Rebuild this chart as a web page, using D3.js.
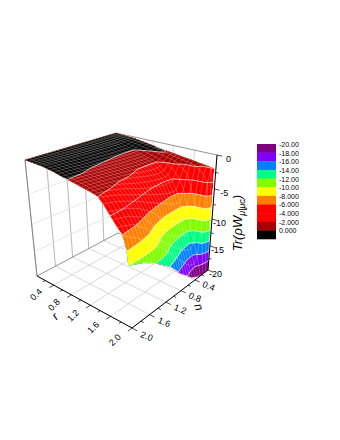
<!DOCTYPE html>
<html>
<head>
<meta charset="utf-8">
<script src="https://cdn.jsdelivr.net/npm/d3@7"></script>
<style>
  body { margin: 0; background: #fff; }
  text { font-family: "Liberation Sans", Arial, sans-serif; fill: #000; }
</style>
</head>
<body>
<svg id="chart" width="340" height="440"></svg>
<script>

// grid of the surface
var rValues = [0, 0.4, 0.65, 0.85, 1.1, 1.25, 1.4, 1.5, 1.6, 1.65, 1.7, 1.75, 1.8, 1.85, 1.9, 1.95, 1.98, 2.0];
var nValues = [0, 0.1, 0.2, 0.3, 0.5, 0.8, 1.1, 1.4, 1.7, 2.0];
var zValues = [
  [0, 0, 0, 0, 0, 0, 0, 0, 0, 0],
  [-0.2, -0.2, -0.3, -0.4, -0.4, -0.4, -0.35, -0.3, -0.25, -0.2],
  [-0.5, -0.4, -0.7, -1, -1, -0.95, -0.85, -0.8, -0.6, -0.55],
  [-0.75, -0.7, -1, -1.4, -1.4, -1.35, -1.2, -1.1, -0.95, -0.9],
  [-1.05, -1, -1.45, -1.9, -1.96, -1.85, -1.7, -1.5, -1.35, -1.25],
  [-1.2, -1.25, -1.7, -2.7, -2.9, -2.5, -2, -1.8, -1.6, -1.5],
  [-1.35, -1.5, -2, -3.7, -3.9, -3.6, -3.1, -2.3, -1.9, -1.75],
  [-1.45, -1.67, -3, -5, -5.1, -4.6, -3.85, -3.1, -2.4, -1.95],
  [-1.55, -1.83, -4, -7.3, -7.1, -6, -5, -4, -3.2, -2.7],
  [-1.6, -1.92, -5.6, -8.9, -8.6, -7.7, -5.6, -4.5, -3.7, -3.2],
  [-1.7, -2, -8, -10.4, -10.3, -9.3, -6.7, -5, -4.2, -3.8],
  [-1.72, -2.4, -10.3, -12.3, -11.7, -10.6, -8.3, -5.7, -4.7, -4.3],
  [-1.8, -2.9, -11.7, -14, -13.1, -11.6, -9.5, -6.4, -5.3, -4.8],
  [-1.85, -3.3, -13.3, -15.2, -14.7, -12.6, -10.5, -7.6, -5.8, -5.3],
  [-1.9, -3.7, -14.8, -17, -16.3, -13.6, -11.2, -8.7, -6.9, -5.7],
  [-1.97, -6, -16, -18.6, -17.7, -15.2, -12, -9.8, -8.2, -6.7],
  [-2.2, -15, -18.7, -19.3, -18.5, -16.2, -13.2, -11, -9.6, -7.7],
  [-20, -20, -20, -19.8, -19, -16.8, -14, -12.2, -10.8, -10]
];

var zLevels = [-21, -18, -16, -14, -12, -10, -8, -6, -4, -2, -1];
var bandColors = ['#800080', '#8000ff', '#0080ff', '#00ff80', '#80ff00', '#ffff00', '#ff8000', '#ff0000', '#ff0000', '#a80000', '#000000'];
var legendLabels = ['-20.00', '-18.00', '-16.00', '-14.00', '-12.00', '-10.00', '-8.000', '-6.000', '-4.000', '-2.000', '0.000'];

var rTicks = [0.4, 0.8, 1.2, 1.6, 2.0];
var nTicks = [0.4, 0.8, 1.2, 1.6, 2.0];
var zTicks = [0, -5, -10, -15, -20];

var svg = d3.select('#chart');

var rScale = d3.scaleLinear().domain([0, 2]).range([0, 1]);
var nScale = d3.scaleLinear().domain([0, 2]).range([0, 1]);
var zScale = d3.scaleLinear().domain([-20, 0]).range([0, 1]);

// box corners on screen, third number is the perspective weight
var floorBox = { b: [118, 233, 1], l: [37, 276, 0.849], r: [208, 270, 0.877], f: [132, 328, 0.726] };
var topBox = { b: [116, 133, 0.8], l: [25, 160, 0.68], r: [217, 155, 0.70], f: [124, 188, 0.58] };

function project(r, n, z) {
  var u = rScale(r), v = nScale(n), t = zScale(z);
  var mix = { b: (1 - u) * (1 - v), l: (1 - u) * v, r: u * (1 - v), f: u * v };
  var x = 0, y = 0, w = 0;
  for (var k in mix) {
    var a = mix[k] * (1 - t) * floorBox[k][2], c = mix[k] * t * topBox[k][2];
    x += a * floorBox[k][0] + c * topBox[k][0];
    y += a * floorBox[k][1] + c * topBox[k][1];
    w += a + c;
  }
  return [x / w, y / w];
}

var line3d = d3.line();

function drawLine(g, points, stroke, width) {
  return g.append('path')
    .attr('d', line3d(points.map(function(p) { return project(p[0], p[1], p[2]); })))
    .attr('fill', 'none')
    .attr('stroke', stroke)
    .attr('stroke-width', width);
}

// ****************** walls and floor ***************************
var walls = svg.append('g');
var gridColor = '#c8c8c8';

rTicks.forEach(function(d) {
  drawLine(walls, [[d, 0, -20], [d, 2, -20]], gridColor, 0.7);
  drawLine(walls, [[d, 0, -20], [d, 0, 0]], gridColor, 0.7);
});
nTicks.forEach(function(d) {
  drawLine(walls, [[0, d, -20], [2, d, -20]], gridColor, 0.7);
  drawLine(walls, [[0, d, -20], [0, d, 0]], '#999', 0.7);
});
zTicks.slice(1, 4).forEach(function(d) {
  drawLine(walls, [[0, 2, d], [0, 0, d], [2, 0, d]], '#ddd', 0.7);
});
drawLine(walls, [[0, 2, -20], [0, 0, -20], [2, 0, -20]], '#777', 0.8);
drawLine(walls, [[0, 2, -20], [0, 2, 0], [0, 0, 0], [2, 0, 0]], '#777', 0.8);

// ****************** surface ***************************
var nx = nValues.length, ny = rValues.length;

// contour coordinates back to data, grid point i sits at i + 0.5
var nFromIndex = d3.scaleLinear().domain(nValues.map(function(d, i) { return i + 0.5; })).range(nValues).clamp(true);
var rFromIndex = d3.scaleLinear().domain(rValues.map(function(d, i) { return i + 0.5; })).range(rValues).clamp(true);

var contours = d3.contours().size([nx, ny]).thresholds(zLevels);
var bands = contours(d3.merge(zValues));

function lerp(a, b, t) { return a + (b - a) * t; }

function zAt(r, n) {
  var i = Math.max(1, Math.min(ny - 1, d3.bisectLeft(rValues, r)));
  var j = Math.max(1, Math.min(nx - 1, d3.bisectLeft(nValues, n)));
  var a = (r - rValues[i - 1]) / (rValues[i] - rValues[i - 1]);
  var b = (n - nValues[j - 1]) / (nValues[j] - nValues[j - 1]);
  return lerp(lerp(zValues[i - 1][j - 1], zValues[i - 1][j], b), lerp(zValues[i][j - 1], zValues[i][j], b), a);
}

var surface = svg.append('g');

function toScreen(pt) {
  var r = rFromIndex(pt[1]), n = nFromIndex(pt[0]);
  return project(r, n, zAt(r, n));
}

function ringPath(ring) {
  return line3d(ring.map(toScreen)) + 'Z';
}

// lowest band first, each next one painted over it
bands.forEach(function(band, b) {
  surface.append('path')
    .attr('d', band.coordinates.map(function(poly) {
      return poly.map(ringPath).join('');
    }).join(''))
    .attr('fill', bandColors[b])
    .attr('fill-rule', 'evenodd');
});

// mesh
var meshSteps = d3.range(0, 2.001, 0.08);
meshSteps.forEach(function(s) {
  drawLine(surface, meshSteps.map(function(q) { return [s, q, zAt(s, q)]; }), '#fff', 0.6).attr('stroke-opacity', 0.4);
  drawLine(surface, meshSteps.map(function(q) { return [q, s, zAt(q, s)]; }), '#fff', 0.6).attr('stroke-opacity', 0.4);
});

// white level lines, leaving out pieces that run along the border of the grid
function onBorder(p, q) {
  return (p[0] <= 0.01 && q[0] <= 0.01) || (p[1] <= 0.01 && q[1] <= 0.01) ||
    (p[0] >= nx - 0.01 && q[0] >= nx - 0.01) || (p[1] >= ny - 0.01 && q[1] >= ny - 0.01);
}
bands.slice(1).forEach(function(band) {
  var d = '';
  band.coordinates.forEach(function(poly) {
    poly.forEach(function(ring) {
      for (var i = 1; i < ring.length; i++) {
        if (!onBorder(ring[i - 1], ring[i])) d += line3d([toScreen(ring[i - 1]), toScreen(ring[i])]);
      }
    });
  });
  surface.append('path').attr('d', d).attr('fill', 'none').attr('stroke', '#fff').attr('stroke-width', 0.8).attr('stroke-opacity', 0.85);
});

// ****************** axes ***************************
var axes = svg.append('g');

drawLine(axes, [[0, 2, -20], [2, 2, -20], [2, 0, -20], [2, 0, 0]], '#000', 1);

d3.range(0.2, 2.01, 0.2).forEach(function(d, i) {
  var len = i % 2 ? 0.09 : 0.05;
  drawLine(axes, [[d, 2, -20], [d, 2 + len, -20]], '#000', 0.7);
  drawLine(axes, [[2, d, -20], [2 + len, d, -20]], '#000', 0.7);
});
d3.range(0, -20.1, -2.5).forEach(function(d, i) {
  drawLine(axes, [[2, 0, d], [2 + (i % 2 ? 0.05 : 0.09), 0, d]], '#000', 0.7);
});

function axisLabel(text, x, y, angle, size) {
  return axes.append('text')
    .attr('transform', 'translate(' + x + ',' + y + ') rotate(' + angle + ')')
    .attr('text-anchor', 'middle')
    .attr('dy', '.35em')
    .style('font-size', size + 'px')
    .text(text);
}

rTicks.forEach(function(d) {
  var p = project(d, 2.3, -20);
  axisLabel(d.toFixed(1), p[0] - 3, p[1] + 1, -45, 9);
});
nTicks.forEach(function(d) {
  var p = project(2.26, d, -20);
  axisLabel(d.toFixed(1), p[0], p[1], 22, 9);
});
zTicks.forEach(function(d) {
  var p = project(2, 0, d);
  axes.append('text')
    .attr('x', p[0] + 14)
    .attr('y', p[1] + 7)
    .attr('text-anchor', 'end')
    .style('font-size', '9px')
    .text(d);
});

axisLabel('r', 55, 316, -45, 12).style('font-style', 'italic');
axisLabel('n', 199, 307, 70, 12).style('font-style', 'italic');

var title = axes.append('text')
  .attr('transform', 'translate(242,223) rotate(-90)')
  .attr('text-anchor', 'middle')
  .style('font-size', '13px')
  .style('font-style', 'italic');
title.append('tspan').text('Tr(ρW');
title.append('tspan').attr('dy', 3).style('font-size', '9px').text('μ|μc');
title.append('tspan').attr('dy', -3).text(')');

// ****************** legend ***************************
var legendY = d3.scaleBand().domain(legendLabels).range([144, 239]);
var legend = svg.append('g');

legend.selectAll('rect').data(legendLabels).enter().append('rect')
  .attr('x', 257)
  .attr('y', function(d) { return legendY(d); })
  .attr('width', 19)
  .attr('height', legendY.bandwidth() + 0.3)
  .attr('fill', function(d, i) { return bandColors[i]; });

// own layer keeps the small labels from colour fringes
var legendText = svg.append('g').style('opacity', 0.98);
legendText.selectAll('text').data(legendLabels).enter().append('text')
  .attr('x', 279)
  .attr('y', function(d) { return legendY(d) + 3; })
  .style('font-size', '7px')
  .text(function(d) { return d; });

</script>
</body>
</html>
